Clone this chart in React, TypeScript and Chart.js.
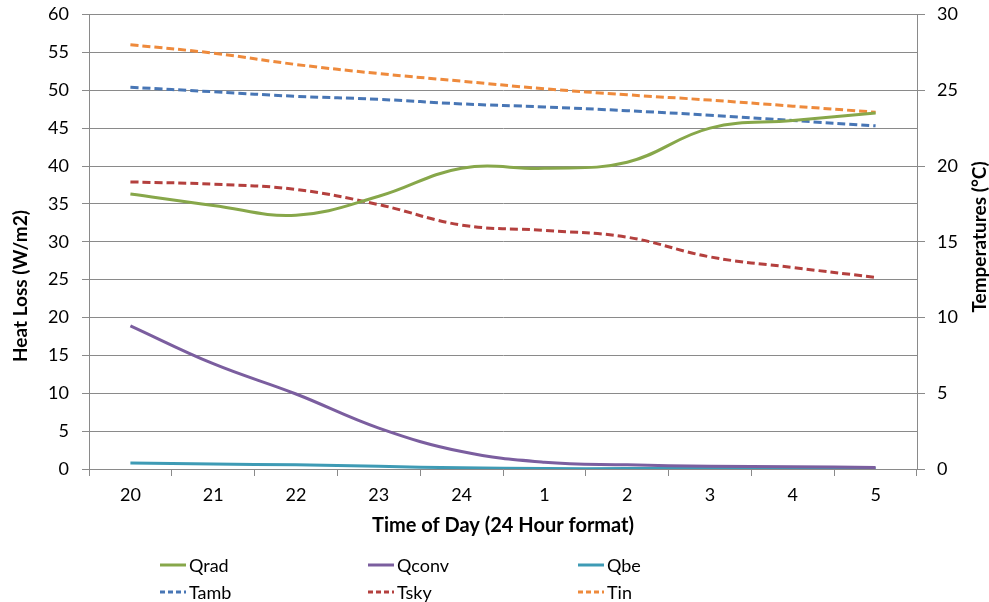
import React, { useEffect, useRef } from 'react';
import { Chart, registerables } from 'chart.js';

Chart.register(...registerables);

const hours = ['20', '21', '22', '23', '24', '1', '2', '3', '4', '5'];
const qrad = [36.3, 34.8, 33.5, 36.0, 39.7, 39.7, 40.5, 45.0, 46.0, 47.0];
const qconv = [18.9, 13.9, 9.9, 5.4, 2.3, 0.9, 0.55, 0.35, 0.3, 0.2];
const qbe = [0.8, 0.65, 0.55, 0.35, 0.15, 0.05, 0.05, 0.05, 0.05, 0.05];
const tamb = [25.2, 24.9, 24.6, 24.4, 24.1, 23.9, 23.65, 23.35, 23.0, 22.65];
const tsky = [18.95, 18.8, 18.45, 17.45, 16.1, 15.75, 15.3, 14.0, 13.3, 12.65];
const tin = [28.0, 27.45, 26.7, 26.1, 25.6, 25.1, 24.7, 24.35, 23.95, 23.55];

const xTitle = 'Time of Day (24 Hour format)';
const leftTitle = 'Heat Loss (W/m2)';
const rightTitle = 'Temperatures (°C)';

const FONT = 'Lato';
const TICK_SIZE = 18;
const TITLE_SIZE = 19;
const GRID = '#8a8a8a';

const legendCols = [160, 368, 578];
const legendRows = [565, 592];

const extrasPlugin = {
  id: 'extras',
  afterDraw(chart: any) {
    const ctx = chart.ctx;
    ctx.save();
    ctx.fillStyle = '#000';
    ctx.font = `bold ${TITLE_SIZE}px ${FONT}`;
    ctx.textAlign = 'center';
    ctx.textBaseline = 'middle';
    // left title
    ctx.save();
    ctx.translate(21, 286);
    ctx.rotate(-Math.PI / 2);
    ctx.fillText(leftTitle, 0, 0);
    ctx.restore();
    // right title
    ctx.save();
    ctx.translate(980, 237);
    ctx.rotate(-Math.PI / 2);
    ctx.fillText(rightTitle, 0, 0);
    ctx.restore();

    // legend
    ctx.font = `${TICK_SIZE}px ${FONT}`;
    ctx.textAlign = 'left';
    chart.data.datasets.forEach((ds: any, i: number) => {
      const x = legendCols[i % 3];
      const y = legendRows[Math.floor(i / 3)];
      ctx.save();
      ctx.strokeStyle = ds.borderColor;
      ctx.lineWidth = 3;
      ctx.setLineDash(ds.borderDash && ds.borderDash.length ? [5, 3] : []);
      ctx.beginPath();
      ctx.moveTo(x, y);
      ctx.lineTo(x + 26, y);
      ctx.stroke();
      ctx.restore();
      ctx.fillStyle = '#000';
      ctx.fillText(ds.label, x + 29, y + 1);
    });
    ctx.restore();
  },
};

export default function App() {
  const ref = useRef<HTMLCanvasElement | null>(null);

  useEffect(() => {
    if (!ref.current) return;
    const line = (label: string, data: number[], color: string, axis: string, dashed: boolean) => ({
      label,
      data,
      borderColor: color,
      backgroundColor: color,
      borderWidth: 3,
      borderDash: dashed ? [8, 4] : [],
      pointRadius: 0,
      tension: 0.4,
      fill: false,
      yAxisID: axis,
    });
    const chart = new Chart(ref.current, {
      type: 'line',
      data: {
        labels: hours,
        datasets: [
          line('Qrad', qrad, '#87a74a', 'y', false),
          line('Qconv', qconv, '#7b5e9f', 'y', false),
          line('Qbe', qbe, '#3e9bb5', 'y', false),
          line('Tamb', tamb, '#4876b5', 'y1', true),
          line('Tsky', tsky, '#b4403e', 'y1', true),
          line('Tin', tin, '#ee8a3c', 'y1', true),
        ],
      },
      options: {
        responsive: false,
        animation: false,
        layout: { padding: { top: 14.5, bottom: 57, left: 0, right: 0 } },
        plugins: { legend: { display: false }, tooltip: { enabled: false } },
        scales: {
          x: {
            type: 'category',
            offset: true,
            grid: { offset: true, drawOnChartArea: false, drawTicks: true, tickLength: 7, color: GRID },
            border: { display: true, color: GRID },
            ticks: { color: '#000', font: { family: FONT, size: TICK_SIZE }, padding: 8, maxRotation: 0 },
            title: {
              display: true,
              text: xTitle,
              color: '#000',
              font: { family: FONT, size: 20, weight: 'bold' },
              padding: { top: 0, bottom: 7 },
            },
            afterFit: (s: any) => { s.height = 76; s.paddingLeft = 0; s.paddingRight = 0; },
          },
          y: {
            position: 'left',
            min: 0,
            max: 60,
            ticks: { stepSize: 5, color: '#000', font: { family: FONT, size: TICK_SIZE }, padding: 13 },
            grid: { color: GRID, tickLength: 7, drawTicks: true },
            border: { display: true, color: GRID },
            afterFit: (s: any) => { s.width = 89; s.paddingTop = 0; s.paddingBottom = 0; },
          },
          y1: {
            position: 'right',
            min: 0,
            max: 30,
            ticks: { stepSize: 5, color: '#000', font: { family: FONT, size: TICK_SIZE }, padding: 12 },
            grid: { color: GRID, tickLength: 8, drawOnChartArea: false, drawTicks: true },
            border: { display: true, color: GRID },
            afterFit: (s: any) => { s.width = 72; s.paddingTop = 0; s.paddingBottom = 0; },
          },
        },
      } as any,
      plugins: [extrasPlugin],
    });
    return () => chart.destroy();
  }, []);

  return (
    <div style={{ position: 'absolute', left: 0, top: 0, width: 989, height: 602, background: '#fff' }}>
      <canvas ref={ref} width={989} height={602} style={{ display: 'block' }} />
    </div>
  );
}
